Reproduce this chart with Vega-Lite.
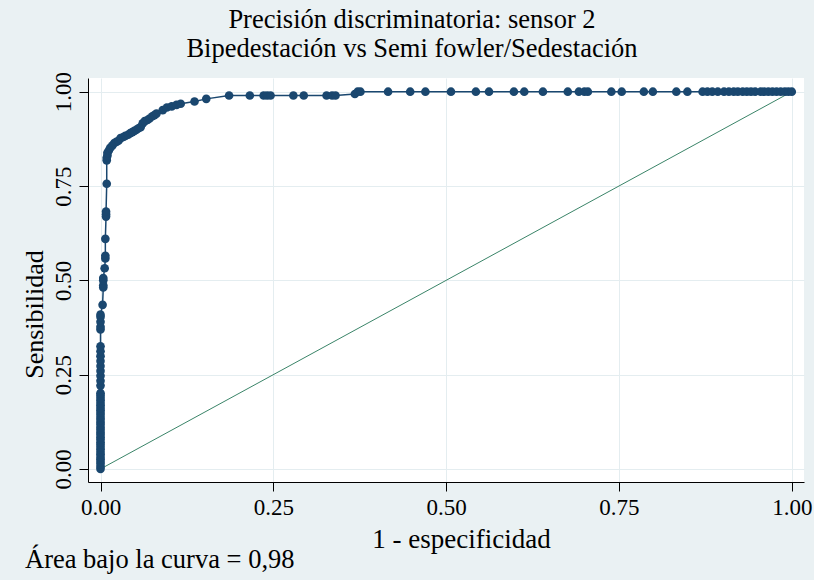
{
  "$schema": "https://vega.github.io/schema/vega-lite/v6.json",
  "background": "#eaf1f3",
  "padding": {"left": 21, "right": 4, "top": 7, "bottom": 8},
  "config": {
    "font": "Liberation Serif",
    "view": {"fill": "white", "stroke": null},
    "axis": {
      "domainColor": "#000000",
      "tickColor": "#000000",
      "labelColor": "#000000",
      "titleColor": "#000000",
      "gridColor": "#e4edf0",
      "labelFont": "Liberation Serif",
      "titleFont": "Liberation Serif",
      "titleFontWeight": "normal",
      "labelFlush": false,
      "labelOverlap": false,
      "tickSize": 9,
      "labelFontSize": 23,
      "titleFontSize": 26
    }
  },
  "title": {
    "text": "Área bajo la curva = 0,98",
    "orient": "bottom",
    "anchor": "start",
    "font": "Liberation Serif",
    "fontSize": 26.5,
    "fontWeight": "normal",
    "color": "#000000",
    "offset": -5,
    "dx": 4
  },
  "vconcat": [
    {
      "width": 716,
      "height": 404,
      "title": {
        "text": ["Precisión discriminatoria: sensor 2", "Bipedestación vs Semi fowler/Sedestación"],
        "font": "Liberation Serif",
        "fontSize": 26.5,
        "fontWeight": "normal",
        "lineHeight": 29,
        "color": "#000000",
        "anchor": "middle",
        "offset": 9,
        "dx": -34
      },
      "layer": [
        {
          "data": {"values": [{"fpr": 0, "tpr": 0}, {"fpr": 1, "tpr": 1}]},
          "mark": {"type": "line", "color": "#3a8468", "strokeWidth": 1},
          "encoding": {
            "x": {"field": "fpr", "type": "quantitative", "scale": {"domain": [-0.0181, 1.0177], "nice": false, "zero": false},
              "axis": {"values": [0, 0.25, 0.5, 0.75, 1], "format": ".2f", "title": "1 - especificidad", "titleFontSize": 27, "titleX": 373, "labelPadding": 5, "titlePadding": 7}},
            "y": {"field": "tpr", "type": "quantitative", "scale": {"domain": [-0.0345, 1.0363], "nice": false, "zero": false},
              "axis": {"values": [0, 0.25, 0.5, 0.75, 1], "format": ".2f", "title": "Sensibilidad", "titleY": 236, "labelAngle": 270, "labelAlign": "center", "labelBaseline": "bottom", "labelPadding": 4, "titlePadding": 5}}
          }
        },
        {
          "data": {"values": [
            {"fpr": 0, "tpr": 0}, {"fpr": 0, "tpr": 0.006}, {"fpr": 0, "tpr": 0.013}, {"fpr": 0, "tpr": 0.019}, {"fpr": 0, "tpr": 0.026},
            {"fpr": 0, "tpr": 0.032}, {"fpr": 0, "tpr": 0.039}, {"fpr": 0, "tpr": 0.045}, {"fpr": 0, "tpr": 0.052}, {"fpr": 0, "tpr": 0.058},
            {"fpr": 0, "tpr": 0.065}, {"fpr": 0, "tpr": 0.071}, {"fpr": 0, "tpr": 0.078}, {"fpr": 0, "tpr": 0.084}, {"fpr": 0, "tpr": 0.091},
            {"fpr": 0, "tpr": 0.097}, {"fpr": 0, "tpr": 0.104}, {"fpr": 0, "tpr": 0.11}, {"fpr": 0, "tpr": 0.117}, {"fpr": 0, "tpr": 0.123},
            {"fpr": 0, "tpr": 0.13}, {"fpr": 0, "tpr": 0.136}, {"fpr": 0, "tpr": 0.143}, {"fpr": 0, "tpr": 0.149}, {"fpr": 0, "tpr": 0.156},
            {"fpr": 0, "tpr": 0.162}, {"fpr": 0, "tpr": 0.169}, {"fpr": 0, "tpr": 0.175}, {"fpr": 0, "tpr": 0.182}, {"fpr": 0, "tpr": 0.188},
            {"fpr": 0, "tpr": 0.195}, {"fpr": 0, "tpr": 0.201}, {"fpr": 0, "tpr": 0.221}, {"fpr": 0, "tpr": 0.234}, {"fpr": 0, "tpr": 0.247},
            {"fpr": 0, "tpr": 0.26}, {"fpr": 0, "tpr": 0.273}, {"fpr": 0, "tpr": 0.286}, {"fpr": 0, "tpr": 0.299}, {"fpr": 0, "tpr": 0.312},
            {"fpr": 0, "tpr": 0.325}, {"fpr": 0, "tpr": 0.37}, {"fpr": 0, "tpr": 0.377}, {"fpr": 0, "tpr": 0.39}, {"fpr": 0, "tpr": 0.403},
            {"fpr": 0, "tpr": 0.409}, {"fpr": 0.003, "tpr": 0.435}, {"fpr": 0.004, "tpr": 0.481}, {"fpr": 0.004, "tpr": 0.487},
            {"fpr": 0.004, "tpr": 0.5}, {"fpr": 0.004, "tpr": 0.506}, {"fpr": 0.006, "tpr": 0.532}, {"fpr": 0.007, "tpr": 0.558},
            {"fpr": 0.007, "tpr": 0.565}, {"fpr": 0.007, "tpr": 0.61}, {"fpr": 0.008, "tpr": 0.669}, {"fpr": 0.008, "tpr": 0.675},
            {"fpr": 0.008, "tpr": 0.682}, {"fpr": 0.009, "tpr": 0.756}, {"fpr": 0.009, "tpr": 0.818}, {"fpr": 0.009, "tpr": 0.825},
            {"fpr": 0.01, "tpr": 0.831}, {"fpr": 0.01, "tpr": 0.838}, {"fpr": 0.012, "tpr": 0.844}, {"fpr": 0.014, "tpr": 0.851},
            {"fpr": 0.017, "tpr": 0.857}, {"fpr": 0.02, "tpr": 0.864}, {"fpr": 0.023, "tpr": 0.867}, {"fpr": 0.026, "tpr": 0.87},
            {"fpr": 0.029, "tpr": 0.877}, {"fpr": 0.033, "tpr": 0.88}, {"fpr": 0.036, "tpr": 0.883}, {"fpr": 0.04, "tpr": 0.886},
            {"fpr": 0.043, "tpr": 0.89}, {"fpr": 0.046, "tpr": 0.893}, {"fpr": 0.049, "tpr": 0.896}, {"fpr": 0.052, "tpr": 0.899},
            {"fpr": 0.055, "tpr": 0.903}, {"fpr": 0.058, "tpr": 0.906}, {"fpr": 0.061, "tpr": 0.916}, {"fpr": 0.064, "tpr": 0.922},
            {"fpr": 0.068, "tpr": 0.925}, {"fpr": 0.071, "tpr": 0.929}, {"fpr": 0.075, "tpr": 0.935}, {"fpr": 0.078, "tpr": 0.938},
            {"fpr": 0.081, "tpr": 0.942}, {"fpr": 0.09, "tpr": 0.951}, {"fpr": 0.096, "tpr": 0.958}, {"fpr": 0.103, "tpr": 0.961},
            {"fpr": 0.11, "tpr": 0.965}, {"fpr": 0.116, "tpr": 0.968}, {"fpr": 0.136, "tpr": 0.974}, {"fpr": 0.153, "tpr": 0.981},
            {"fpr": 0.186, "tpr": 0.99}, {"fpr": 0.216, "tpr": 0.99}, {"fpr": 0.236, "tpr": 0.99}, {"fpr": 0.241, "tpr": 0.99},
            {"fpr": 0.246, "tpr": 0.99}, {"fpr": 0.279, "tpr": 0.99}, {"fpr": 0.294, "tpr": 0.99}, {"fpr": 0.327, "tpr": 0.99},
            {"fpr": 0.335, "tpr": 0.99}, {"fpr": 0.34, "tpr": 0.99}, {"fpr": 0.368, "tpr": 0.994}, {"fpr": 0.372, "tpr": 1},
            {"fpr": 0.376, "tpr": 1}, {"fpr": 0.416, "tpr": 1}, {"fpr": 0.448, "tpr": 1}, {"fpr": 0.47, "tpr": 1},
            {"fpr": 0.507, "tpr": 1}, {"fpr": 0.543, "tpr": 1}, {"fpr": 0.562, "tpr": 1}, {"fpr": 0.598, "tpr": 1},
            {"fpr": 0.613, "tpr": 1}, {"fpr": 0.64, "tpr": 1}, {"fpr": 0.676, "tpr": 1}, {"fpr": 0.692, "tpr": 1},
            {"fpr": 0.7, "tpr": 1}, {"fpr": 0.705, "tpr": 1}, {"fpr": 0.739, "tpr": 1}, {"fpr": 0.754, "tpr": 1},
            {"fpr": 0.786, "tpr": 1}, {"fpr": 0.799, "tpr": 1}, {"fpr": 0.833, "tpr": 1}, {"fpr": 0.849, "tpr": 1},
            {"fpr": 0.871, "tpr": 1}, {"fpr": 0.878, "tpr": 1}, {"fpr": 0.885, "tpr": 1}, {"fpr": 0.893, "tpr": 1},
            {"fpr": 0.902, "tpr": 1}, {"fpr": 0.909, "tpr": 1}, {"fpr": 0.916, "tpr": 1}, {"fpr": 0.922, "tpr": 1},
            {"fpr": 0.929, "tpr": 1}, {"fpr": 0.935, "tpr": 1}, {"fpr": 0.941, "tpr": 1}, {"fpr": 0.947, "tpr": 1},
            {"fpr": 0.955, "tpr": 1}, {"fpr": 0.96, "tpr": 1}, {"fpr": 0.966, "tpr": 1}, {"fpr": 0.972, "tpr": 1},
            {"fpr": 0.978, "tpr": 1}, {"fpr": 0.984, "tpr": 1}, {"fpr": 0.99, "tpr": 1}, {"fpr": 0.995, "tpr": 1},
            {"fpr": 1, "tpr": 1}
          ]},
          "mark": {"type": "line", "color": "#1a476f", "strokeWidth": 1.5,
            "point": {"filled": true, "size": 75, "color": "#1a476f", "opacity": 1}},
          "encoding": {
            "x": {"field": "fpr", "type": "quantitative"},
            "y": {"field": "tpr", "type": "quantitative"},
            "order": [{"field": "fpr"}, {"field": "tpr"}]
          }
        }
      ]
    }
  ]
}
